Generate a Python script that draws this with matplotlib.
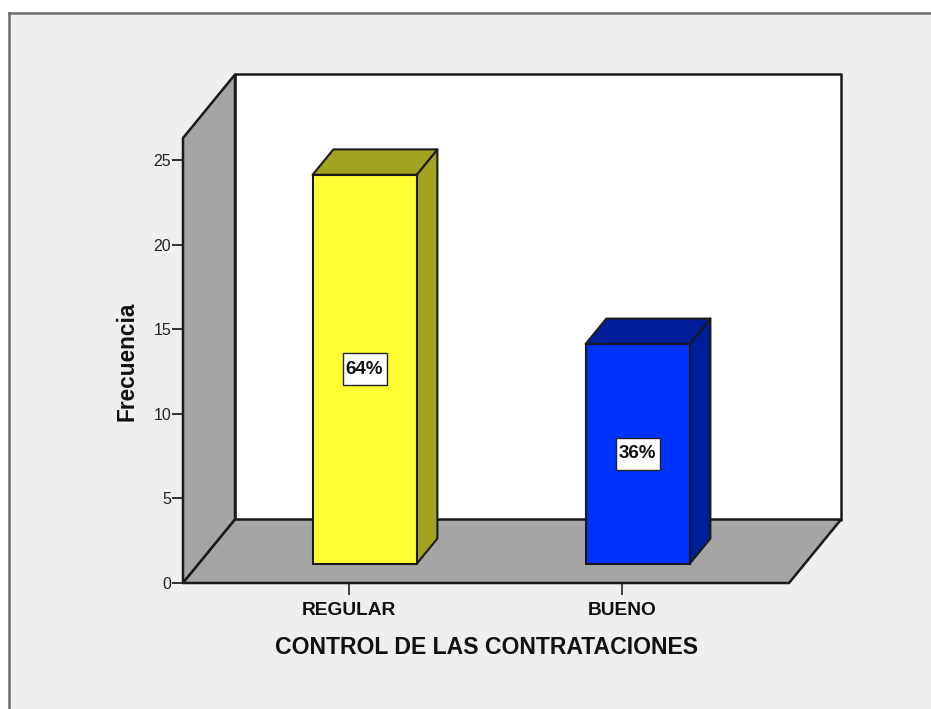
import matplotlib
matplotlib.use("Agg")
import matplotlib.pyplot as plt
from matplotlib.patches import Polygon, Rectangle
from matplotlib.lines import Line2D

categories = ["REGULAR", "BUENO"]
values = [23, 13]
percent_labels = ["64%", "36%"]
y_ticks = [0, 5, 10, 15, 20, 25]
x_title = "CONTROL DE LAS CONTRATACIONES"
y_title = "Frecuencia"
front_colors = ["#FFFF33", "#0033FF"]
shade_colors = ["#A3A322", "#001E99"]

W, H = 931, 709
BG = "#EFEFEF"
GRAY = "#A5A5A5"
EDGE = "#1A1A1A"
plt.rcParams["font.family"] = ["Liberation Sans", "DejaVu Sans"]

fig = plt.figure(figsize=(W / 100, H / 100), dpi=100, facecolor="white")
# outer panel and its border
fig.add_artist(Rectangle((9 / W, 0), 1, 1 - 13 / H, transform=fig.transFigure, fc=BG, ec="none", zorder=-3))
fig.add_artist(Line2D([9 / W, 9 / W], [0, 1 - 13 / H], color="#6E6E6E", lw=1.8, zorder=-2))
fig.add_artist(Line2D([9 / W, 1], [1 - 13 / H, 1 - 13 / H], color="#6E6E6E", lw=1.8, zorder=-2))

# axes: front plane of the 3D box
L, R, B, T = 183, 789, 583, 138
ax = fig.add_axes([L / W, 1 - B / H, (R - L) / W, (B - T) / H])
ax.patch.set_alpha(0)
px_per_cat = 273
px_per_unit = 16.92
x0 = -(349 - L) / px_per_cat
ax.set_xlim(x0, x0 + (R - L) / px_per_cat)
ax.set_ylim(0, (B - T) / px_per_unit)
xa, xb = ax.get_xlim()
ya, yb = ax.get_ylim()
DX = 52 / px_per_cat
DY = 63.5 / px_per_unit
BAR_W = 104 / px_per_cat
D1, D2 = 0.3, 0.7
BOX_W = 44 / px_per_cat
BOX_H = 32 / px_per_unit


def poly(pts, fc, z, lw=1.8):
    ax.add_patch(Polygon(pts, closed=True, fc=fc, ec=EDGE, lw=lw, zorder=z, clip_on=False, joinstyle="round"))


# back wall, left wall, floor
poly([(xa + DX, DY), (xb + DX, DY), (xb + DX, yb + DY), (xa + DX, yb + DY)], "white", 1)
poly([(xa, 0), (xa + DX, DY), (xa + DX, yb + DY), (xa, yb)], GRAY, 2)
poly([(xa, 0), (xb, 0), (xb + DX, DY), (xa + DX, DY)], GRAY, 2)

# bars
for i, (v, fc, sc, lab) in enumerate(zip(values, front_colors, shade_colors, percent_labels)):
    xl = i - BAR_W / 2 + D1 * DX
    xr = xl + BAR_W
    base = D1 * DY
    depth_x = (D2 - D1) * DX
    depth_y = (D2 - D1) * DY
    top = base + v
    poly([(xr, base), (xr + depth_x, base + depth_y), (xr + depth_x, top + depth_y), (xr, top)], sc, 3, 1.5)
    poly([(xl, top), (xr, top), (xr + depth_x, top + depth_y), (xl + depth_x, top + depth_y)], sc, 3, 1.5)
    ax.bar(xl + BAR_W / 2, v, width=BAR_W, bottom=base, color=fc, edgecolor=EDGE, linewidth=1.5, zorder=4, clip_on=False)
    cx, cy = xl + BAR_W / 2, base + v / 2
    ax.add_patch(Rectangle((cx - BOX_W / 2, cy - BOX_H / 2), BOX_W, BOX_H, fc="white", ec="#222222", lw=1, zorder=5))
    ax.text(cx, cy, lab, ha="center", va="center", fontsize=13.5, fontweight="bold", color="#111111", zorder=6)

for s in ax.spines.values():
    s.set_visible(False)
ax.set_xticks(range(len(categories)))
ax.set_xticklabels(categories, fontsize=13.8, fontweight="bold", color="#111111")
ax.set_yticks(y_ticks)
ax.set_yticklabels([str(t) for t in y_ticks], fontsize=11.5, color="#222222")
ax.tick_params(axis="x", length=8.5, width=1.3, color="#333333", pad=5)
ax.tick_params(axis="y", length=8, width=1.3, color="#222222", pad=0.5)

fig.text(486.5 / W, 1 - 647 / H, x_title, ha="center", va="center", fontsize=16.55, fontweight="bold", color="#111111")
fig.text(127 / W, 1 - 361 / H, y_title, rotation=90, ha="center", va="center", fontsize=16.3, fontweight="bold", color="#111111")

fig.savefig("out.png", dpi=100, facecolor=fig.get_facecolor())
